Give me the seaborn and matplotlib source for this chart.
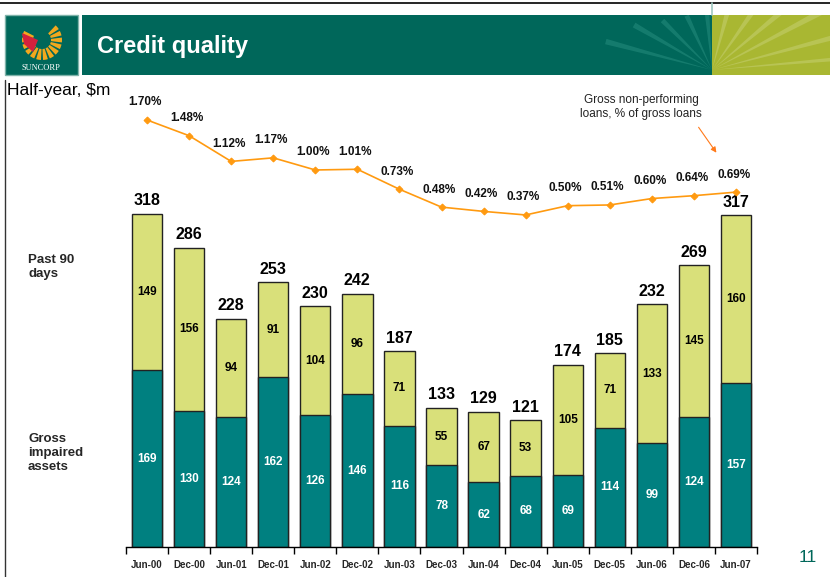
import numpy as np
import pandas as pd
import matplotlib
matplotlib.use("Agg")
import matplotlib.pyplot as plt
from matplotlib.patches import Rectangle, Polygon, Wedge, FancyArrowPatch
import seaborn as sns

# ---------------- data ----------------
periods = ["Jun-00", "Dec-00", "Jun-01", "Dec-01", "Jun-02", "Dec-02", "Jun-03", "Dec-03",
           "Jun-04", "Dec-04", "Jun-05", "Dec-05", "Jun-06", "Dec-06", "Jun-07"]
impaired = [169, 130, 124, 162, 126, 146, 116, 78, 62, 68, 69, 114, 99, 124, 157]
past90 = [149, 156, 94, 91, 104, 96, 71, 55, 67, 53, 105, 71, 133, 145, 160]
total_labels = [318, 286, 228, 253, 230, 242, 187, 133, 129, 121, 174, 185, 232, 269, 317]
npl_pct = [1.70, 1.48, 1.12, 1.17, 1.00, 1.01, 0.73, 0.48, 0.42, 0.37, 0.50, 0.51, 0.60, 0.64, 0.69]

TEAL = "#008080"
YELLOW = "#D9E07A"
ORANGE = "#FF9A10"
HDR = "#00675A"
LIME = "#A9B732"

sns.set_theme(style="white")
plt.rcParams["font.family"] = ["Liberation Sans", "DejaVu Sans"]

fig = plt.figure(figsize=(8.3, 5.77), dpi=100)
fig.patch.set_facecolor("white")

# ---------------- decorative slide frame (pixel coords) ----------------
bg = fig.add_axes([0, 0, 1, 1])
bg.set_xlim(0, 830)
bg.set_ylim(577, 0)
bg.axis("off")
bg.set_zorder(0)

bg.plot([0, 830], [3, 3], color="black", lw=1.2)
bg.plot([712, 712], [3, 15], color="#9FC8C0", lw=1.2)
bg.plot([5, 5], [80, 577], color="#333333", lw=1.0)
# logo box
bg.add_patch(Rectangle((5, 15), 73, 60, facecolor=HDR, edgecolor="#7FB3AA", lw=1))
# header bar
bg.add_patch(Rectangle((82, 15), 630, 60, facecolor=HDR, edgecolor="none"))
bg.add_patch(Rectangle((712, 15), 118, 60, facecolor=LIME, edgecolor="none"))
# rays
clip = Rectangle((82, 15), 748, 60, transform=bg.transData)
cx, cy = 712, 70
for ang, ln, w in [(165, 110, 0.025), (150, 90, 0.03), (135, 70, 0.035), (115, 60, 0.04),
                   (95, 60, 0.04), (75, 65, 0.04), (55, 90, 0.035), (40, 120, 0.03),
                   (28, 140, 0.025), (15, 160, 0.02), (5, 200, 0.015)]:
    a = np.deg2rad(ang)
    p1 = (cx + ln * np.cos(a - w), cy - ln * np.sin(a - w))
    p2 = (cx + ln * np.cos(a + w), cy - ln * np.sin(a + w))
    col = "#2E9585" if np.cos(a) < 0 else "#CBD47E"
    poly = Polygon([(cx, cy), p1, p2], closed=True, facecolor=col, alpha=0.45,
                   edgecolor="none")
    bg.add_patch(poly)
    poly.set_clip_path(clip)
# logo sun
for k in range(13):
    th = 200 - k * 20
    bg.add_patch(Wedge((42, 40), 20, th - 7, th + 7, width=11, facecolor="#F2A81D",
                       edgecolor="none"))
bg.add_patch(Polygon([(22, 33), (38, 40), (33, 52), (24, 44)], closed=True,
                     facecolor="#D4213D", edgecolor="none"))
bg.text(41, 68, "SUNCORP", color="white", fontsize=6, ha="center", va="center",
        family="Liberation Serif")

bg.text(97, 46, "Credit quality", color="white", fontsize=17, fontweight="bold",
        ha="left", va="center")
bg.text(7, 90, "Half-year, $m", color="black", fontsize=12.5, ha="left", va="center")
bg.text(28, 267, "Past 90\ndays", fontsize=9.5, fontweight="bold", ha="left", va="center",
        linespacing=1.2)
bg.text(28, 453, "Gross\nimpaired\nassets", fontsize=9.5, fontweight="bold", ha="left",
        va="center", linespacing=1.2)
bg.text(641, 107, "Gross non-performing\nloans, % of gross loans", fontsize=8.5,
        ha="center", va="center", color="#222222", linespacing=1.25)
bg.add_patch(FancyArrowPatch((697, 125), (718, 155), arrowstyle="-|>", mutation_scale=8,
                             color="#FF7A1A", lw=0.8))
bg.text(808, 557, "11", color=HDR, fontsize=12.5, ha="center", va="center")

# ---------------- main chart ----------------
df = pd.DataFrame({"period": periods, "impaired": impaired, "past90": past90})
df["stack"] = df["impaired"] + df["past90"]

ax = fig.add_axes([126 / 830, 30 / 577, 631 / 830, 457 / 577])
ax.set_zorder(2)
ax.patch.set_alpha(0)
sns.barplot(data=df, x="period", y="stack", color=YELLOW, saturation=1, width=0.72,
            edgecolor="#222222", linewidth=1.0, ax=ax)
sns.barplot(data=df, x="period", y="impaired", color=TEAL, saturation=1, width=0.72,
            edgecolor="#222222", linewidth=1.0, ax=ax)
ax.set_xlim(-0.5, len(periods) - 0.5)
ax.set_ylim(0, 436.5)
ax.set_xlabel("")
ax.set_ylabel("")
ax.set_yticks([])
for s in ["left", "right", "top"]:
    ax.spines[s].set_visible(False)
ax.spines["bottom"].set_color("black")
ax.spines["bottom"].set_linewidth(1.0)
ax.tick_params(axis="x", which="major", length=0, labelsize=7, pad=9)
ax.set_xticks(np.arange(-0.5, len(periods), 1.0), minor=True)
ax.tick_params(axis="x", which="minor", length=5, width=1, color="black", direction="out",
               bottom=True)
for lbl in ax.get_xticklabels():
    lbl.set_fontweight("bold")

for i in range(len(periods)):
    ax.text(i, impaired[i] / 2, str(impaired[i]), ha="center", va="center", color="white",
            fontsize=8.5, fontweight="bold")
    ax.text(i, impaired[i] + past90[i] / 2, str(past90[i]), ha="center", va="center",
            color="black", fontsize=8.5, fontweight="bold")
    ax.text(i, df["stack"][i] + 12.5, str(total_labels[i]), ha="center", va="center",
            color="black", fontsize=11.5, fontweight="bold")

ax2 = ax.twinx()
ax2.set_zorder(3)
ax2.patch.set_alpha(0)
sns.lineplot(x=np.arange(len(periods)), y=npl_pct, color=ORANGE, lw=1.2, marker="D",
             markersize=3.5, markeredgecolor=ORANGE, ax=ax2)
ax2.set_ylim(-4.28, 2.12)
ax2.set_yticks([])
ax2.set_ylabel("")
for s in ["left", "right", "top", "bottom"]:
    ax2.spines[s].set_visible(False)
for i, v in enumerate(npl_pct):
    ax2.text(i - 0.05, v + 0.245, f"{v:.2f}%", ha="center", va="center", fontsize=8.5,
             fontweight="bold", color="#111111")

fig.savefig("out.png", dpi=100)
